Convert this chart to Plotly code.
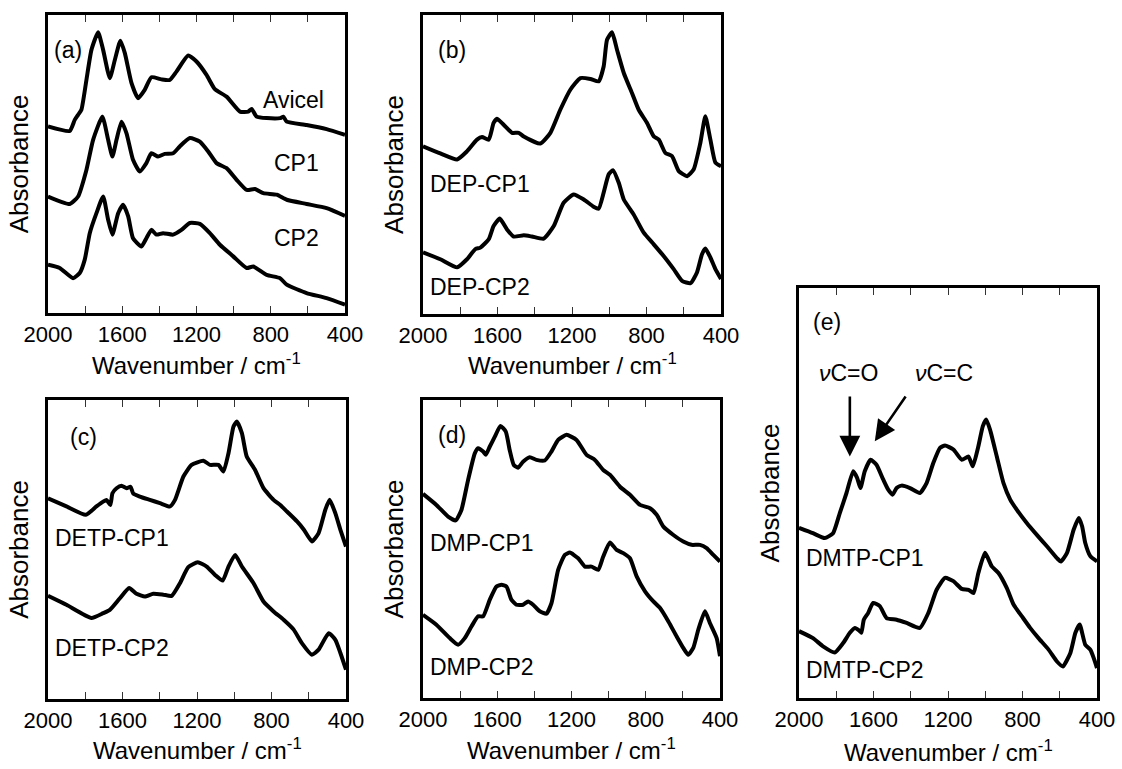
import plotly.graph_objects as go

# ---------------- data (wavenumber / cm-1, absorbance in arbitrary units) ----------------
avicel_wn = [2000,1883,1856,1838,1820,1793,1766,1730,1703,1667,1640,1610,1586,1550,1515,1479,1443,1389,1344,1308,1245,1200,1146,1101,1038,966,921,903,876,822,750,732,714,607,499,400]
avicel_ab = [62.6,61.1,64.8,66.5,68.2,78.2,88.3,94.2,88.3,78.8,84.9,91.4,87.2,77.1,72.1,74.9,79.1,78.4,78.2,81.0,86.4,84.4,79.9,75.1,72.6,67.6,67.6,68.5,65.9,65.4,65.4,65.9,64.2,63.1,61.7,59.8]

cp1_wn = [2000,1883,1838,1793,1757,1707,1676,1653,1631,1604,1577,1542,1506,1470,1443,1407,1371,1326,1290,1236,1182,1137,1092,1038,984,930,885,840,768,714,607,499,400]
cp1_ab = [39.1,36.6,39.1,48.0,58.1,65.9,58.1,52.5,58.1,64.2,60.3,51.4,47.5,50.3,53.6,52.5,53.4,53.6,55.9,58.7,57.5,54.2,50.3,48.6,44.7,41.3,41.6,40.2,39.7,38.0,36.6,35.2,32.6]

cp2_wn = [2000,1937,1865,1829,1802,1775,1739,1703,1676,1653,1622,1595,1568,1542,1497,1470,1443,1416,1380,1326,1281,1236,1182,1128,1074,1002,930,894,822,750,714,607,499,400]
cp2_ab = [16.2,15.1,11.7,13.4,17.9,26.8,33.5,39.1,31.3,26.3,33.5,36.3,32.4,25.1,22.3,25.1,27.9,26.3,26.8,26.3,27.9,30.2,29.9,26.8,22.9,19.0,15.1,15.6,12.8,11.7,9.5,6.7,5.0,2.8]

dep_cp1_wn = [2000,1907,1817,1764,1710,1683,1647,1621,1603,1567,1522,1486,1459,1370,1316,1263,1209,1155,1101,1057,1030,1012,985,958,922,878,842,797,761,734,699,663,627,582,547,511,484,457,430,400]
dep_cp1_ab = [56.1,53.7,51.7,54.4,58.3,59.2,58.3,63.9,65.3,63.3,60.6,60.6,59.4,57.0,60.6,68.3,75.0,78.9,78.6,77.8,82.8,91.7,94.2,88.3,80.6,73.9,68.3,63.9,59.4,58.3,53.9,52.8,47.8,46.1,48.3,57.2,66.1,58.3,50.6,49.4]

dep_cp2_wn = [2000,1907,1817,1764,1719,1692,1647,1621,1588,1549,1513,1459,1415,1352,1298,1245,1191,1137,1084,1057,1030,1003,980,949,922,869,815,761,708,654,609,564,529,502,484,457,430,400]
dep_cp2_ab = [20.6,18.3,15.6,18.3,21.7,22.2,25.0,29.4,31.9,28.3,25.9,26.3,25.9,25.2,29.4,37.2,40.0,38.3,35.9,35.2,40.6,46.7,48.1,43.9,38.3,33.3,27.2,23.3,19.4,15.0,11.1,10.3,13.9,20.0,21.9,18.9,15.0,11.7]

detp_cp1_wn = [2000,1901,1797,1740,1704,1686,1665,1654,1632,1605,1578,1557,1543,1507,1453,1399,1345,1318,1273,1229,1166,1130,1085,1058,1031,1004,986,959,933,888,843,789,753,717,663,628,583,547,511,488,457,430,400]
detp_cp1_ab = [67.1,64.4,61.6,64.4,66.0,66.6,64.9,68.8,70.5,71.3,70.5,71.0,68.8,67.7,66.6,65.5,64.4,66.6,74.4,78.3,79.7,78.3,78.3,76.1,82.2,91.1,92.8,88.9,81.1,76.6,70.5,66.6,64.9,62.7,59.4,56.8,52.7,55.5,63.3,66.6,62.1,56.6,51.0]

detp_cp2_wn = [2000,1901,1767,1704,1668,1614,1564,1525,1480,1435,1381,1336,1291,1247,1196,1148,1103,1062,1031,995,959,897,843,789,735,681,637,583,547,493,457,430,400]
detp_cp2_ab = [34.5,31.5,27.1,28.7,29.8,33.7,37.1,35.2,34.3,35.2,34.9,34.5,38.8,44.1,45.7,44.3,41.5,39.6,44.3,48.2,44.3,38.8,32.6,29.3,26.5,23.2,18.7,14.8,16.5,22.0,19.8,15.4,9.8]

dmp_cp1_wn = [2000,1928,1865,1824,1793,1757,1721,1703,1676,1662,1640,1613,1583,1554,1533,1511,1488,1461,1425,1389,1344,1308,1272,1227,1173,1119,1074,1029,993,939,885,831,777,741,705,651,598,553,508,472,436,400]
dmp_cp1_ab = [68.5,64.8,60.9,59.6,63.1,73.2,82.1,83.8,82.7,81.6,84.4,87.7,91.3,89.4,83.2,78.2,77.3,79.3,80.8,79.9,79.7,82.7,86.6,88.3,86.6,81.6,79.9,76.5,74.9,70.9,68.2,64.8,63.7,61.5,57.5,54.7,52.5,51.4,51.4,50.3,48.0,45.8]

dmp_cp2_wn = [2000,1928,1856,1811,1775,1739,1703,1676,1640,1604,1577,1550,1524,1497,1461,1434,1407,1371,1335,1308,1272,1236,1209,1164,1128,1092,1056,1029,993,957,921,885,849,804,759,723,678,634,598,571,544,517,481,454,418,400]
dmp_cp2_ab = [27.9,24.6,20.1,17.9,20.1,24.0,27.4,27.4,33.0,37.4,38.0,37.4,33.0,31.3,31.3,32.4,31.3,29.1,28.3,31.8,43.0,48.0,48.8,46.9,44.1,44.1,43.0,47.5,52.2,49.7,48.6,46.9,40.8,35.8,32.4,30.2,25.7,20.7,16.8,14.5,16.8,22.9,29.1,25.1,20.1,14.0]

dmtp_cp1_wn = [2000,1925,1862,1817,1781,1745,1709,1688,1670,1647,1616,1584,1548,1521,1498,1476,1449,1404,1351,1315,1279,1243,1216,1171,1126,1090,1067,1037,1013,995,974,938,902,866,830,777,723,669,615,594,561,525,498,480,463,436,400]
dmtp_cp1_ab = [41.5,40.2,39.0,40.2,45.1,50.0,55.3,53.7,51.2,55.3,58.1,56.9,53.3,50.8,49.6,51.2,51.8,51.2,50.0,52.4,57.3,61.0,61.6,60.6,58.1,58.9,56.5,61.4,66.3,67.9,65.4,58.9,52.4,48.4,45.9,42.7,39.8,37.0,34.1,33.3,35.4,41.1,43.9,41.9,37.8,34.6,33.3]

dmtp_cp2_wn = [2000,1925,1871,1808,1763,1727,1700,1673,1665,1652,1629,1602,1566,1530,1476,1422,1351,1306,1261,1216,1171,1126,1090,1063,1037,1001,965,929,884,848,803,759,714,660,615,583,543,516,493,463,436,418,400]
dmtp_cp2_ab = [16.3,14.6,12.6,11.1,13.4,15.9,17.1,16.3,15.9,19.1,20.7,23.2,22.4,19.5,19.1,18.3,17.1,20.7,26.4,29.3,28.5,26.6,26.4,25.6,30.5,35.4,32.1,30.5,26.8,22.8,19.9,17.1,14.6,11.8,8.9,7.7,11.0,15.9,17.9,13.0,11.8,9.8,7.3]

# ---------------- figure ----------------
W, H = 1122, 769
FONT = "Liberation Sans, Arial, Helvetica, sans-serif"
LINE_W = 4

# panel boxes in pixels (left, right, top, bottom)
boxes = {
    1: (48, 345, 15, 313),
    2: (423, 721, 15, 314),
    3: (48, 346, 400, 699),
    4: (423, 720, 400, 698),
    5: (799, 1097, 288, 698),
}
# vertical pixel position of the x-axis title centre, per panel
xtitle_y = {1: 364, 2: 364, 3: 749, 4: 749, 5: 751}

series = [
    (1, avicel_wn, avicel_ab, "Avicel"),
    (1, cp1_wn, cp1_ab, "CP1"),
    (1, cp2_wn, cp2_ab, "CP2"),
    (2, dep_cp1_wn, dep_cp1_ab, "DEP-CP1"),
    (2, dep_cp2_wn, dep_cp2_ab, "DEP-CP2"),
    (3, detp_cp1_wn, detp_cp1_ab, "DETP-CP1"),
    (3, detp_cp2_wn, detp_cp2_ab, "DETP-CP2"),
    (4, dmp_cp1_wn, dmp_cp1_ab, "DMP-CP1"),
    (4, dmp_cp2_wn, dmp_cp2_ab, "DMP-CP2"),
    (5, dmtp_cp1_wn, dmtp_cp1_ab, "DMTP-CP1"),
    (5, dmtp_cp2_wn, dmtp_cp2_ab, "DMTP-CP2"),
]

fig = go.Figure()
for p, xs, ys, name in series:
    sfx = "" if p == 1 else str(p)
    fig.add_trace(go.Scatter(x=xs, y=ys, mode="lines", name=name,
                             line=dict(color="black", width=LINE_W, shape="spline", smoothing=0.5),
                             xaxis="x" + sfx, yaxis="y" + sfx, showlegend=False))

layout = dict(width=W, height=H, margin=dict(l=0, r=0, t=0, b=0),
              paper_bgcolor="white", plot_bgcolor="white", showlegend=False,
              font=dict(family=FONT, color="black"))

for p, (l, r, t, b) in boxes.items():
    sfx = "" if p == 1 else str(p)
    layout["xaxis" + sfx] = dict(
        domain=[l / W, r / W], anchor="y" + sfx, range=[2000, 400],
        tick0=400, dtick=400, ticks="inside", ticklen=7, tickwidth=1.2, tickcolor="#333",
        minor=dict(tick0=400, dtick=200, ticks="inside", ticklen=7, tickwidth=1.2,
                   tickcolor="#333", showgrid=False),
        showline=True, linewidth=3, linecolor="black", mirror="ticks",
        showgrid=False, zeroline=False, automargin=False,
        tickfont=dict(family=FONT, size=22, color="black"),
    )
    layout["yaxis" + sfx] = dict(
        domain=[1 - b / H, 1 - t / H], anchor="x" + sfx, range=[0, 100],
        showticklabels=False, ticks="", showline=True, linewidth=3, linecolor="black",
        mirror=True, showgrid=False, zeroline=False, automargin=False,
        title=dict(text="Absorbance", standoff=9,
                   font=dict(family=FONT, size=26, color="black")),
    )

fig.update_layout(**layout)

# x-axis titles
for p, (l, r, t, b) in boxes.items():
    fig.add_annotation(x=(l + r) / 2 / W, y=1 - xtitle_y[p] / H, xref="paper", yref="paper",
                       text="Wavenumber / cm<sup>-1</sup>", showarrow=False,
                       xanchor="center", yanchor="middle",
                       font=dict(family=FONT, size=24, color="black"))

ANN = 23
def label(p, x, y, text, xanchor="center", size=ANN):
    sfx = "" if p == 1 else str(p)
    fig.add_annotation(x=x, y=y, xref="x" + sfx, yref="y" + sfx, text=text,
                       showarrow=False, xanchor=xanchor, yanchor="middle",
                       font=dict(family=FONT, size=size, color="black"))

label(1, 1892, 88.3, "(a)")
label(1, 675, 71.5, "Avicel")
label(1, 664, 50.3, "CP1")
label(1, 659, 25.2, "CP2")

label(2, 1844, 88.3, "(b)")
label(2, 1972, 43.5, "DEP-CP1", "left")
label(2, 1972, 9.0, "DEP-CP2", "left")

label(3, 1807, 87.6, "(c)")
label(3, 1972, 53.8, "DETP-CP1", "left")
label(3, 1972, 17.1, "DETP-CP2", "left")

label(4, 1844, 88.3, "(d)")
label(4, 1972, 52.0, "DMP-CP1", "left")
label(4, 1972, 10.4, "DMP-CP2", "left")

label(5, 1850, 91.7, "(e)")
label(5, 1732, 79.3, "<i>ν</i>C=O")
label(5, 1222, 79.3, "<i>ν</i>C=C")
label(5, 1972, 34.1, "DMTP-CP1", "left")
label(5, 1972, 6.8, "DMTP-CP2", "left")

# arrows in panel (e)
for (tx, ty, hx, hy) in [(1727, 73.9, 1727, 58.9), (1422, 73.9, 1593, 62.6)]:
    fig.add_annotation(x=hx, y=hy, ax=tx, ay=ty, xref="x5", yref="y5", axref="x5", ayref="y5",
                       text="", showarrow=True, arrowhead=2, arrowsize=1.6, arrowwidth=2.6,
                       arrowcolor="black")

fig.write_html("out.html")
